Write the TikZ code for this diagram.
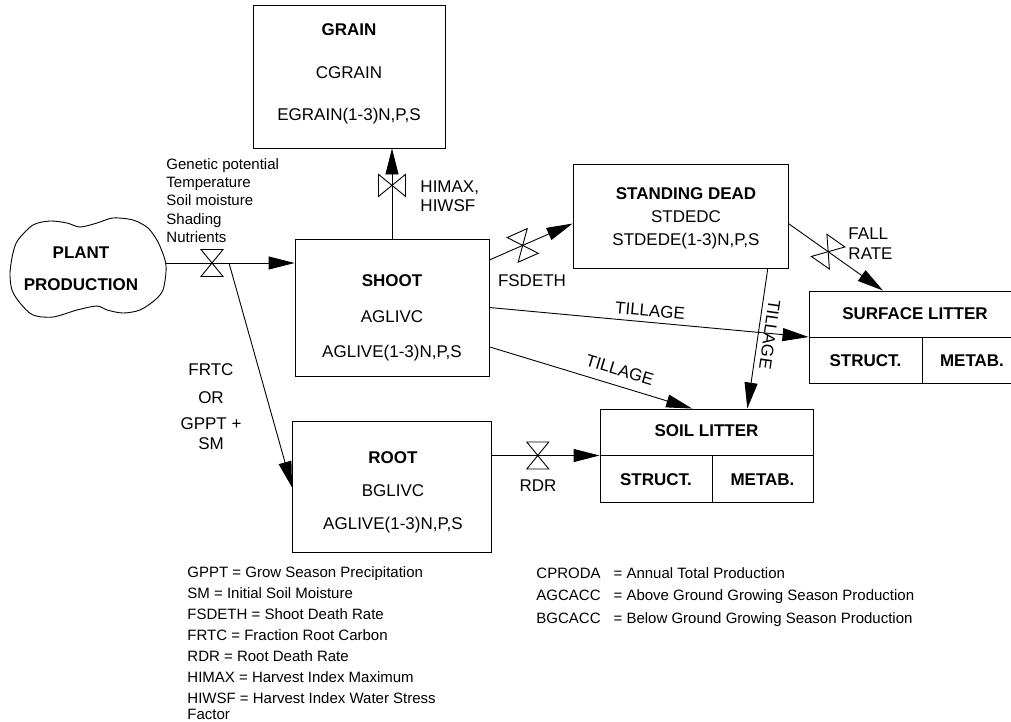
\documentclass[tikz,border=0pt]{standalone}
\usepackage{fontspec}
\setmainfont{Liberation Sans}
\usetikzlibrary{arrows.meta,positioning}

\tikzset{
  valve/.pic={\draw (-11,-13.5) -- (11,-13.5) -- (-11,13.5) -- (11,13.5) -- cycle;}
}

\begin{document}
\begin{tikzpicture}[x=1pt, y=-1pt, line width=0.9pt,
  box/.style={draw, rectangle, inner sep=0pt},
  txt/.style={font=\fontsize{17}{20}\selectfont},
  title/.style={font=\fontsize{17}{20}\selectfont\bfseries},
  small/.style={font=\fontsize{15}{21}\selectfont},
  flow/.style={-{Triangle[length=26pt,width=13pt]}}]
\clip (0,0) rectangle (1011,721);

\draw plot[smooth cycle] coordinates {(18,240) (33,225) (50,221) (67,223) (80,227) (97,223)
  (113,218) (133,220) (148,228) (158,242) (165,260) (166,272) (163,290) (155,300) (140,310)
  (123,313) (107,310) (97,306) (77,310) (53,317) (33,315) (20,303) (12,290) (10,273) (13,253)};
\node[title, align=center] (plant) at (81,269) {PLANT\\[12pt]PRODUCTION};

\node[box, minimum width=192, minimum height=143] (grain) at (349,76.5) {};
\node[box, minimum width=194, minimum height=137] (shoot) at (392,307.5) {};
\node[box, minimum width=199, minimum height=131, below=45pt of shoot] (root) {};
\node[box, minimum width=215, minimum height=104] (sdead) at (680.5,216) {};
\node[box, minimum width=213, minimum height=93] (soil) at (706.5,455.5) {};
\node[box, minimum width=213, minimum height=92] (surf) at (915.5,337) {};
\draw (soil.west) -- (soil.east) ([xshift=5.5pt]soil.center) -- ([xshift=5.5pt]soil.south);
\draw (surf.west) -- (surf.east) ([xshift=6.5pt]surf.center) -- ([xshift=6.5pt]surf.south);

\node[txt, align=center] (grain-t) at (349,74.3) {\textbf{GRAIN}\\[22.5pt]CGRAIN\\[22.5pt]EGRAIN(1-3)N,P,S};
\node[txt, align=center] (shoot-t) at (392,318.3) {\textbf{SHOOT}\\[15.5pt]AGLIVC\\[15.5pt]AGLIVE(1-3)N,P,S};
\node[txt, align=center] (root-t) at (393,492.8) {\textbf{ROOT}\\[13pt]BGLIVC\\[13pt]AGLIVE(1-3)N,P,S};
\node[txt, align=center] (sdead-t) at (686,218.5) {\textbf{STANDING DEAD}\\[3.25pt]STDEDC\\[3.25pt]STDEDE(1-3)N,P,S};
\node[title] (soil-t) at (706.5,431) {SOIL LITTER};
\node[title] (soil-s) at (656,480) {STRUCT.};
\node[title] (soil-m) at (762.5,480) {METAB.};
\node[title] (surf-t) at (915,314) {SURFACE LITTER};
\node[title] (surf-s) at (865.5,361) {STRUCT.};
\node[title] (surf-m) at (972,361) {METAB.};

\coordinate (plant-out) at (166,263);
\coordinate (v-plant) at (212,263);
\coordinate (split) at (229,263);
\draw[flow] (plant-out) -- (plant-out -| shoot.west);
\draw[flow] (split) -- (root.west);
\draw[flow] (shoot.north) -- coordinate[pos=.59] (v-grain) (shoot.north |- grain.south);
\draw[flow] (shoot.26) -- coordinate[pos=.4] (v-fsdeth) (sdead.184);
\draw[flow] (sdead.-4) -- coordinate[pos=.42] (v-fall) (surf.125);
\draw[flow] (root.east |- soil.west) -- coordinate[pos=.426] (v-rdr) (soil.west);
\path[flow] (shoot.east) edge node[txt, above=2pt, sloped] {TILLAGE} (surf.west)
    (shoot.-22) edge node[txt, above=6pt, sloped, pos=.62] {TILLAGE} (soil.107)
    (sdead.-31) edge node[txt, pos=.46, rotate=-98, anchor=south, inner sep=5pt] {TILLAGE} (soil.49);

\pic at (v-plant) {valve};
\pic[rotate=90] at (v-grain) {valve};
\pic[rotate=24] at (v-fsdeth) {valve};
\pic[rotate=-35] at (v-fall) {valve};
\pic at (v-rdr) {valve};

\node[small, align=left, anchor=north west, inner sep=0pt, font=\fontsize{15}{18.3}\selectfont] (factors) at (166,158)
  {Genetic potential\\Temperature\\Soil moisture\\Shading\\Nutrients};
\node[txt, align=left, anchor=west] (himax) at (416.7,196) {HIMAX,\\[-1pt]HIWSF};
\node[txt] (fsdeth) at (532,281) {FSDETH};
\node[txt, align=left, anchor=west] (fall) at (844.7,244) {FALL\\RATE};
\node[txt] (rdr) at (538,486) {RDR};
\node[txt, align=center] (frtc) at (211,406.8) {FRTC\\[7.5pt]OR\\[6pt]GPPT +\\SM};

\node[small, align=left, anchor=north west, inner sep=0pt] (legend) at (187,566)
  {GPPT = Grow Season Precipitation\\SM = Initial Soil Moisture\\FSDETH = Shoot Death Rate\\
   FRTC = Fraction Root Carbon\\RDR = Root Death Rate\\HIMAX = Harvest Index Maximum\\
   HIWSF = Harvest Index Water Stress\\[-5pt]Factor};
\node[anchor=north west, inner sep=0pt, font=\fontsize{15}{22.5}\selectfont] (totals) at (536,562)
  {\begin{tabular}{@{}l@{\hspace{13pt}}l@{}}
   CPRODA & = Annual Total Production\\
   AGCACC & = Above Ground Growing Season Production\\
   BGCACC & = Below Ground Growing Season Production
   \end{tabular}};
\end{tikzpicture}
\end{document}
